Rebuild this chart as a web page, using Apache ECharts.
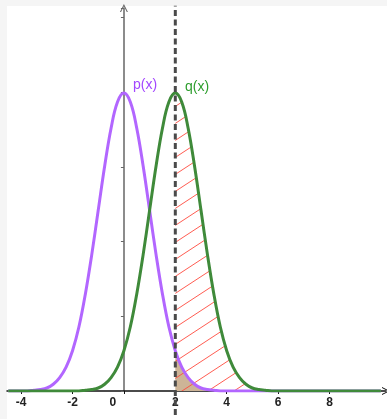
<!DOCTYPE html>
<html>
<head>
<meta charset="utf-8">
<script src="https://cdn.jsdelivr.net/npm/echarts@6/dist/echarts.min.js"></script>
<style>
  html, body { margin: 0; padding: 0; background: #f5f5f5; }
  #chart { width: 387px; height: 419px; }
</style>
</head>
<body>
<div id="chart"></div>
<script>
// x positions read along the axis (step 0.25)
var xs = [-4.5, -4.25, -4, -3.75, -3.5, -3.25, -3, -2.75, -2.5, -2.25,
          -2, -1.75, -1.5, -1.25, -1, -0.75, -0.5, -0.25, 0, 0.25,
          0.5, 0.75, 1, 1.25, 1.5, 1.75, 2, 2.25, 2.5, 2.75,
          3, 3.25, 3.5, 3.75, 4, 4.25, 4.5, 4.75, 5, 5.25,
          5.5, 5.75, 6, 6.25, 6.5, 6.75, 7, 7.25, 7.5, 7.75,
          8, 8.25, 8.5, 8.75, 9, 9.25, 9.5, 9.75, 10];
// p(x) heights (purple)
var pVals = [0, 0, 0, 0, 0.001, 0.002, 0.004, 0.009, 0.018, 0.032,
             0.054, 0.086, 0.130, 0.183, 0.242, 0.301, 0.352, 0.387, 0.399, 0.387,
             0.352, 0.301, 0.242, 0.183, 0.130, 0.086, 0.054, 0.032, 0.018, 0.009,
             0.004, 0.002, 0.001, 0, 0, 0, 0, 0, 0, 0,
             0, 0, 0, 0, 0, 0, 0, 0, 0, 0,
             0, 0, 0, 0, 0, 0, 0, 0, 0];
// q(x) heights (green)
var qVals = [0, 0, 0, 0, 0, 0, 0, 0, 0, 0,
             0, 0, 0.001, 0.002, 0.004, 0.009, 0.018, 0.032, 0.054, 0.086,
             0.130, 0.183, 0.242, 0.301, 0.352, 0.387, 0.399, 0.387, 0.352, 0.301,
             0.242, 0.183, 0.130, 0.086, 0.054, 0.032, 0.018, 0.009, 0.004, 0.002,
             0.001, 0, 0, 0, 0, 0, 0, 0, 0, 0,
             0, 0, 0, 0, 0, 0, 0, 0, 0];
var xTicks = [-4, -2, 0, 2, 4, 6, 8];
var cutX = 2;
var cutLine = [[cutX, -0.032], [cutX, 0.516]];

function pairs(vals, from) {
  var out = [];
  for (var i = 0; i < xs.length; i++) {
    if (from === undefined || xs[i] >= from) out.push([xs[i], vals[i]]);
  }
  return out;
}

// red hatch pattern
var hatch = document.createElement('canvas');
hatch.width = 26; hatch.height = 17;
var hc = hatch.getContext('2d');
hc.strokeStyle = '#ff4a3d';
hc.lineWidth = 0.9;
for (var k = -1; k <= 1; k++) {
  hc.beginPath();
  hc.moveTo(-26, 34 + k * 17);
  hc.lineTo(52, -17 + k * 17);
  hc.stroke();
}

var chart = echarts.init(document.getElementById('chart'));
var arrow = 'path://M0,10L5,0L10,10L8.6,10L5,2.8L1.4,10Z';

chart.setOption({
  backgroundColor: '#f5f5f5',
  animation: false,
  graphic: [
    { type: 'rect', z: -10, shape: { x: 7, y: 6, width: 380, height: 413 }, style: { fill: '#ffffff' } },
    { type: 'text', x: 133, y: 85, z: 50, style: { text: 'p(x)', fill: '#a347ff', font: '14px "Liberation Sans", sans-serif', textVerticalAlign: 'middle' } },
    { type: 'text', x: 185, y: 87, z: 50, style: { text: 'q(x)', fill: '#2e9e2e', font: '14px "Liberation Sans", sans-serif', textVerticalAlign: 'middle' } }
  ],
  grid: { left: 7, right: 1, top: 8, bottom: 28 },
  xAxis: {
    type: 'value',
    min: -4.55,
    max: 10.2,
    splitLine: { show: false },
    axisLine: { lineStyle: { color: '#111', width: 1.5 }, symbol: ['none', arrow], symbolSize: [8, 8] },
    axisTick: { customValues: xTicks, length: 3, lineStyle: { color: '#111' } },
    axisLabel: {
      customValues: xTicks,
      margin: 6,
      color: '#222',
      fontWeight: 'bold',
      fontSize: 12,
      fontFamily: '"Liberation Sans", sans-serif',
      formatter: function (v) { return v === 0 ? '{z|0}' : String(v); },
      rich: { z: { padding: [0, 22, 0, 0], color: '#222', fontWeight: 'bold', fontSize: 12 } }
    }
  },
  yAxis: {
    type: 'value',
    min: 0,
    max: 0.513,
    interval: 0.1,
    splitLine: { show: false },
    axisLine: { onZero: true, lineStyle: { color: '#666', width: 1.5 }, symbol: ['none', arrow], symbolSize: [8, 8] },
    axisTick: { length: 3, lineStyle: { color: '#666' } },
    axisLabel: { show: false }
  },
  series: [
    {
      type: 'line', data: pairs(pVals, cutX), symbol: 'none', smooth: 0.4,
      lineStyle: { width: 0 }, areaStyle: { color: '#cdb497', opacity: 1 }, z: 1
    },
    {
      type: 'line', data: pairs(qVals, cutX), symbol: 'none', smooth: 0.4,
      lineStyle: { width: 0 }, areaStyle: { color: { image: hatch, repeat: 'repeat' }, opacity: 1 }, z: 2
    },
    {
      type: 'line', data: pairs(pVals), symbol: 'none', smooth: 0.4,
      lineStyle: { color: '#b266ff', width: 3 }, z: 4
    },
    {
      type: 'line', data: pairs(qVals), symbol: 'none', smooth: 0.4,
      lineStyle: { color: '#3f8a3a', width: 3 }, z: 5
    },
    {
      type: 'line', data: cutLine, symbol: 'none', clip: false,
      lineStyle: { color: '#4a4a4a', width: 3, type: [6, 3.5] }, z: 6
    }
  ]
});
</script>
</body>
</html>
